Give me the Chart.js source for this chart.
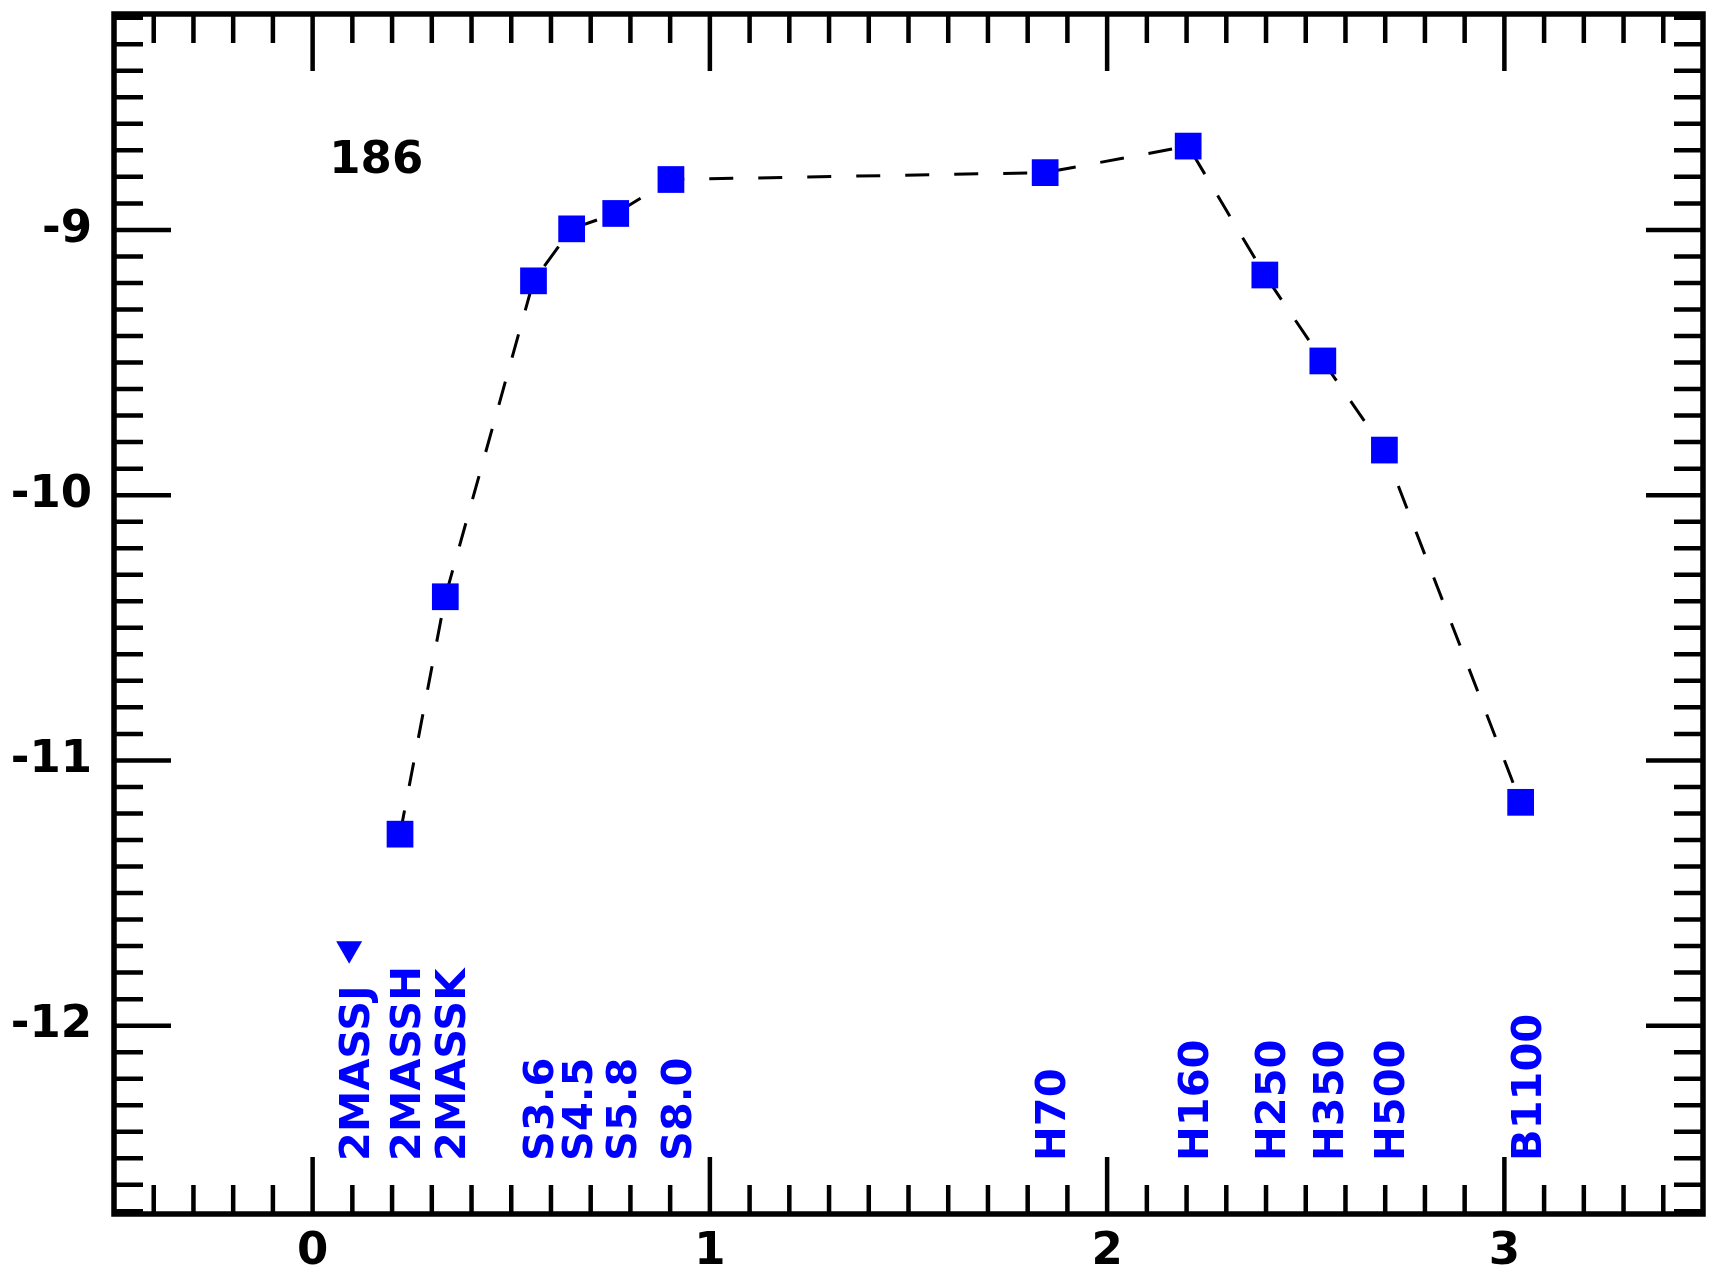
<!DOCTYPE html>
<html>
<head>
<meta charset="utf-8">
<script src="https://cdn.jsdelivr.net/npm/chart.js@4"></script>
<style>
  html, body { margin: 0; padding: 0; background: #fff; }
  #wrap { width: 1717px; height: 1275px; position: relative; }
</style>
</head>
<body>
<div id="wrap"><canvas id="sed"></canvas></div>
<script>
// source id
const sourceTag = '186';

// detections: band, log wavelength (um), log flux
const bands = ['2MASSH', '2MASSK', 'S3.6', 'S4.5', 'S5.8', 'S8.0', 'H70', 'H160', 'H250', 'H350', 'H500', 'B1100'];
const logWave = [0.220, 0.334, 0.556, 0.652, 0.763, 0.902, 1.844, 2.204, 2.397, 2.543, 2.698, 3.041];
const logFlux = [-11.278, -10.383, -9.192, -8.996, -8.938, -8.810, -8.784, -8.684, -9.170, -9.494, -9.830, -11.158];

// upper limits
const limitBands = ['2MASSJ'];
const limitWave = [0.092];
const limitFlux = [-11.71];

// axes
const xMajor = [0, 1, 2, 3];
const yMajor = [-9, -10, -11, -12];
const xRange = [-0.5, 3.5];
const yRange = [-12.71, -8.186];

const BLUE = '#0000ff';
const FONT = '"DejaVu Sans", sans-serif';

// minor tick positions (every 0.1)
const xMinor = [];
for (let i = -4; i <= 34; i++) if (i % 10) xMinor.push(i / 10);
const yMinor = [];
for (let i = -127; i <= -82; i++) if (i % 10) yMinor.push(i / 10);

const framePlugin = {
  id: 'frame',
  afterDraw(chart) {
    const { ctx, chartArea: a, scales: { x, y } } = chart;
    ctx.save();
    ctx.strokeStyle = '#000';
    ctx.lineCap = 'butt';

    // ticks on all four sides, pointing inward
    ctx.lineWidth = 4.5;
    const tick = (v, len, horiz) => {
      if (horiz) {
        const px = x.getPixelForValue(v);
        ctx.beginPath();
        ctx.moveTo(px, a.bottom); ctx.lineTo(px, a.bottom - len);
        ctx.moveTo(px, a.top); ctx.lineTo(px, a.top + len);
        ctx.stroke();
      } else {
        const py = y.getPixelForValue(v);
        ctx.beginPath();
        ctx.moveTo(a.left, py); ctx.lineTo(a.left + len, py);
        ctx.moveTo(a.right, py); ctx.lineTo(a.right - len, py);
        ctx.stroke();
      }
    };
    xMinor.forEach(v => tick(v, 29, true));
    xMajor.forEach(v => tick(v, 57, true));
    yMinor.forEach(v => tick(v, 29, false));
    yMajor.forEach(v => tick(v, 57, false));

    ctx.lineWidth = 5.5;
    ctx.strokeRect(a.left, a.top, a.right - a.left, a.bottom - a.top);

    // band names, rotated
    ctx.fillStyle = BLUE;
    ctx.font = 'bold 41.5px ' + FONT;
    ctx.textAlign = 'left';
    ctx.textBaseline = 'alphabetic';
    const names = limitBands.concat(bands);
    const waves = limitWave.concat(logWave);
    const py = y.getPixelForValue(-12.51);
    names.forEach((n, i) => {
      ctx.save();
      ctx.translate(x.getPixelForValue(waves[i]) + 20, py);
      ctx.rotate(-Math.PI / 2);
      ctx.fillText(n, 0, 0);
      ctx.restore();
    });

    // source label
    ctx.fillStyle = '#000';
    ctx.font = 'bold 45px ' + FONT;
    ctx.fillText(sourceTag, x.getPixelForValue(0.042), y.getPixelForValue(-8.784));
    ctx.restore();
  }
};

new Chart(document.getElementById('sed'), {
  type: 'scatter',
  data: {
    datasets: [
      {
        label: 'flux',
        data: logWave.map((v, i) => ({ x: v, y: logFlux[i] })),
        showLine: true,
        borderColor: '#000',
        borderWidth: 3,
        borderDash: [24, 25],
        pointStyle: 'rect',
        pointRadius: 18.9,
        pointBorderWidth: 0,
        pointBackgroundColor: BLUE,
        pointBorderColor: BLUE
      },
      {
        label: 'upper limit',
        data: limitWave.map((v, i) => ({ x: v, y: limitFlux[i] })),
        showLine: false,
        pointStyle: 'triangle',
        rotation: 180,
        pointRadius: 15,
        pointBorderWidth: 0,
        pointBackgroundColor: BLUE,
        pointBorderColor: BLUE
      }
    ]
  },
  options: {
    responsive: true,
    maintainAspectRatio: false,
    animation: false,
    layout: { autoPadding: false, padding: { top: 14, right: 14, left: 0, bottom: 0 } },
    plugins: { legend: { display: false }, tooltip: { enabled: false } },
    scales: {
      x: {
        type: 'linear',
        min: xRange[0], max: xRange[1],
        grid: { display: false },
        border: { display: false },
        afterBuildTicks: s => { s.ticks = xMajor.map(v => ({ value: v })); },
        afterFit: s => { s.height = 61; s.paddingLeft = 0; s.paddingRight = 0; },
        ticks: {
          padding: 3,
          color: '#000',
          maxRotation: 0,
          font: { family: FONT, size: 45, weight: 'bold' },
          callback: v => String(v)
        }
      },
      y: {
        type: 'linear',
        min: yRange[0], max: yRange[1],
        grid: { display: false },
        border: { display: false },
        afterBuildTicks: s => { s.ticks = yMajor.map(v => ({ value: v })); },
        afterFit: s => { s.width = 114; s.paddingTop = 0; s.paddingBottom = 0; },
        ticks: {
          padding: 14,
          color: '#000',
          font: { family: FONT, size: 45, weight: 'bold' },
          callback: v => String(v)
        }
      }
    }
  },
  plugins: [framePlugin]
});
</script>
</body>
</html>
